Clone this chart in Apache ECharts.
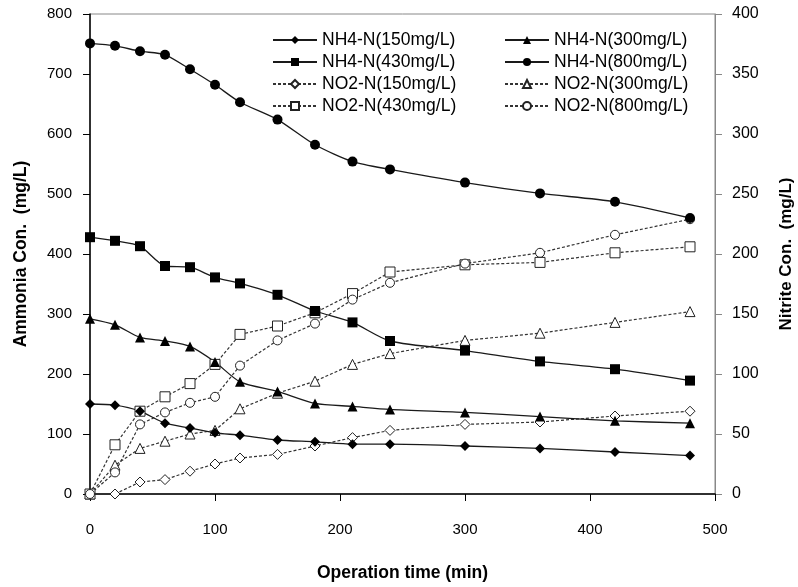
<!DOCTYPE html>
<html>
<head>
<meta charset="utf-8">
<script src="https://cdn.jsdelivr.net/npm/echarts@6/dist/echarts.min.js"></script>
<style>
html,body{margin:0;padding:0;background:#fff;}
#chart{width:798px;height:587px;}
</style>
</head>
<body>
<div id="chart"></div>
<script>
const times = [0, 20, 40, 60, 80, 100, 120, 150, 180, 210, 240, 300, 360, 420, 480];
const xTicks = [0, 100, 200, 300, 400, 500];
const nh4_150 = [150, 148, 138, 118, 110, 102, 98, 90, 87, 83, 83, 80, 76, 70, 64];
const nh4_300 = [292, 282, 261, 255, 246, 220, 187, 171, 151, 146, 141, 136, 129, 122, 118];
const nh4_430 = [428, 422, 413, 380, 378, 361, 351, 332, 305, 286, 255, 239, 221, 208, 189];
const nh4_800 = [751, 747, 738, 732, 708, 682, 653, 624, 582, 554, 541, 519, 501, 487, 460];
const no2_150 = [0, 0, 10, 12, 19, 25, 30, 33, 40, 47, 53, 58, 60, 65, 69];
const no2_300 = [0, 24, 38, 44, 50, 53, 71, 84, 94, 108, 117, 128, 134, 143, 152];
const no2_430 = [0, 41, 69, 81, 92, 108, 133, 140, 151, 167, 185, 191, 193, 201, 206];
const no2_800 = [0, 18, 58, 68, 76, 81, 107, 128, 142, 162, 176, 192, 201, 216, 229];

const names = {
  a150: 'NH4-N(150mg/L)', a300: 'NH4-N(300mg/L)', a430: 'NH4-N(430mg/L)', a800: 'NH4-N(800mg/L)',
  n150: 'NO2-N(150mg/L)', n300: 'NO2-N(300mg/L)', n430: 'NO2-N(430mg/L)', n800: 'NO2-N(800mg/L)'
};

function pairs(arr) { return times.map((t, i) => [t, arr[i]]); }

const SANS = "'Liberation Sans', Arial, sans-serif";

function solid(name, data, symbol, size) {
  return {
    name, type: 'line', yAxisIndex: 0, data: pairs(data), smooth: 0.25,
    symbol, symbolSize: size,
    lineStyle: { color: '#1a1a1a', width: 1.3, type: 'solid' },
    itemStyle: { color: '#000', borderColor: '#000', borderWidth: 0 },
    emphasis: { disabled: true }, animation: false
  };
}
function dashed(name, data, symbol, size) {
  return {
    name, type: 'line', yAxisIndex: 1, data: pairs(data), smooth: false,
    symbol, symbolSize: size,
    lineStyle: { color: '#333', width: 1.2, type: [3, 2] },
    itemStyle: { color: '#fff', borderColor: '#222', borderWidth: 1 },
    emphasis: { disabled: true }, animation: false
  };
}

const chart = echarts.init(document.getElementById('chart'), null, { renderer: 'canvas' });
const legendCommon = {
  orient: 'vertical', top: 31, padding: 0, itemWidth: 44, itemHeight: 10, itemGap: 4,
  textStyle: { fontFamily: SANS, fontSize: 17.5, color: '#000', lineHeight: 16 },
  selectedMode: false
};
chart.setOption({
  animation: false,
  backgroundColor: '#fff',
  grid: { left: 90, right: 83, top: 14, bottom: 93, show: true, borderColor: '#888', borderWidth: 1,
          containLabel: false, outerBoundsMode: 'none' },
  legend: [
    Object.assign({ left: 272, data: [names.a150, names.a430, names.n150, names.n430] }, legendCommon),
    Object.assign({ left: 504, data: [names.a300, names.a800, names.n300, names.n800] }, legendCommon)
  ],
  xAxis: {
    type: 'value', min: 0, max: 500, interval: 100,
    name: 'Operation time (min)', nameLocation: 'middle', nameGap: 70,
    nameTextStyle: { fontFamily: SANS, fontWeight: 'bold', fontSize: 17.5, color: '#000' },
    axisLine: { show: true, onZero: false, lineStyle: { color: '#000', width: 1.5 } },
    axisTick: { show: true, inside: false, length: 7, lineStyle: { color: '#000', width: 1 } },
    axisLabel: { margin: 28, fontFamily: SANS, fontSize: 15, color: '#000' },
    splitLine: { show: false }
  },
  yAxis: [
    {
      type: 'value', min: 0, max: 800, interval: 100, position: 'left',
      name: 'Ammonia Con.  (mg/L)', nameLocation: 'middle', nameGap: 60, nameRotate: 90,
      nameTextStyle: { fontFamily: SANS, fontWeight: 'bold', fontSize: 17.5, color: '#000' },
      axisLine: { show: true, lineStyle: { color: '#000', width: 1.5 } },
      axisTick: { show: true, inside: false, length: 7, lineStyle: { color: '#000', width: 1 } },
      axisLabel: { margin: 18, fontFamily: SANS, fontSize: 15, color: '#000' },
      splitLine: { show: false }
    },
    {
      type: 'value', min: 0, max: 400, interval: 50, position: 'right',
      name: 'Nitrite Con.  (mg/L)', nameLocation: 'middle', nameGap: 63, nameRotate: 90,
      nameTextStyle: { fontFamily: SANS, fontWeight: 'bold', fontSize: 17, color: '#000' },
      axisLine: { show: true, lineStyle: { color: '#888', width: 1 } },
      axisTick: { show: true, inside: false, length: 7, lineStyle: { color: '#888', width: 1 } },
      axisLabel: { margin: 17, fontFamily: SANS, fontSize: 16, color: '#000' },
      splitLine: { show: false }
    }
  ],
  series: [
    dashed(names.n150, no2_150, 'diamond', 10),
    dashed(names.n300, no2_300, 'triangle', 10),
    dashed(names.n430, no2_430, 'rect', 10),
    dashed(names.n800, no2_800, 'circle', 9),
    solid(names.a150, nh4_150, 'diamond', 10),
    solid(names.a300, nh4_300, 'triangle', 10),
    solid(names.a430, nh4_430, 'rect', 10),
    solid(names.a800, nh4_800, 'circle', 10)
  ]
});
</script>
</body>
</html>
